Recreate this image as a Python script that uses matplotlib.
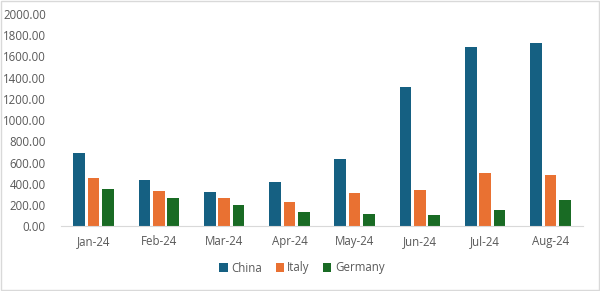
import matplotlib.pyplot as plt
import numpy as np
from matplotlib.patches import Rectangle

months = ["Jan-24", "Feb-24", "Mar-24", "Apr-24", "May-24", "Jun-24", "Jul-24", "Aug-24"]
china = [690, 436, 323, 417, 634, 1312, 1688, 1726]
italy = [455, 333, 267, 229, 317, 342, 502, 483]
germany = [351, 267, 201, 135, 116, 106, 154, 248]

plt.rcParams["font.family"] = ["Open Sans", "DejaVu Sans"]
text_color = "#595959"

fig = plt.figure(figsize=(6, 2.91), dpi=100)
ax = fig.add_axes([61 / 600, 1 - 226.3 / 291, 522 / 600, 212.3 / 291])

x = np.arange(len(months))
w = 0.18
off = 0.222
ax.bar(x - off, china, w, color="#156082", label="China")
ax.bar(x, italy, w, color="#E97132", label="Italy")
ax.bar(x + off, germany, w, color="#196B24", label="Germany")

ax.set_xlim(-0.5, len(months) - 0.5)
ax.set_ylim(0, 2000)
ax.set_yticks(np.arange(0, 2001, 200))
ax.set_yticklabels([f"{v:.2f}" for v in np.arange(0, 2001, 200)])
ax.set_xticks(x)
ax.set_xticklabels(months)
ax.tick_params(axis="both", length=0, labelsize=8.3, colors=text_color)
ax.tick_params(axis="y", pad=11)
ax.tick_params(axis="x", pad=6)

for s in ["top", "right", "left"]:
    ax.spines[s].set_visible(False)
ax.spines["bottom"].set_color("#D9D9D9")

ax.legend(loc="center", bbox_to_anchor=(302 / 600, 1 - 268 / 291),
          bbox_transform=fig.transFigure, ncol=3, frameon=False,
          fontsize=8.3, labelcolor=text_color, handlelength=0.7,
          handleheight=0.7, handletextpad=0.3, columnspacing=1.2)

fig.patches.append(Rectangle((0.002, 0.003), 0.996, 0.994, transform=fig.transFigure,
                             fill=False, edgecolor="#D9D9D9", linewidth=1))

fig.savefig("out.png", dpi=100)
